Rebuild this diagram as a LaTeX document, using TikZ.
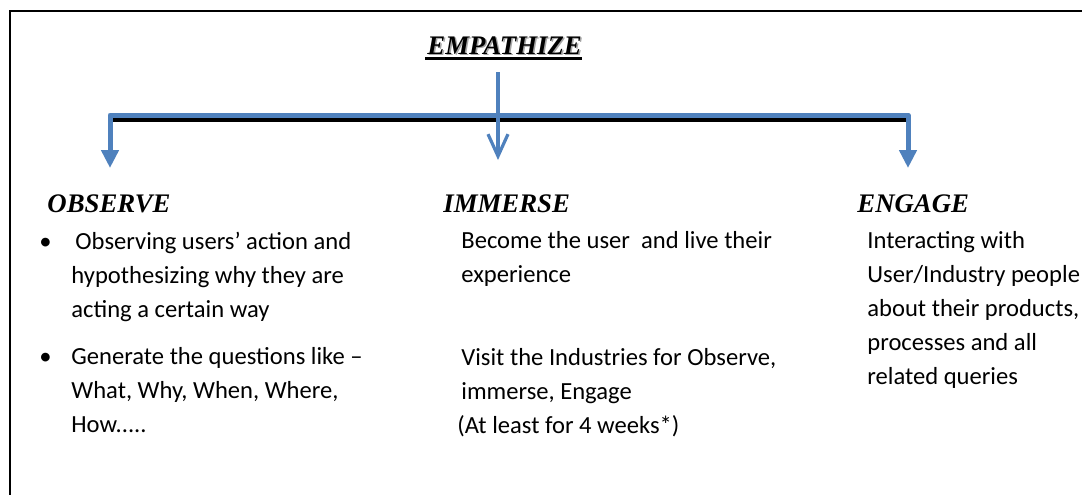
\documentclass[tikz,border=0pt]{standalone}
\usepackage{fontspec}
\setmainfont{Liberation Serif}
\newfontfamily\calibrifont{Carlito}
\usepackage{tikz}
\usetikzlibrary{arrows.meta, positioning}
\definecolor{officeblue}{RGB}{79,129,189}

\begin{document}
\begin{tikzpicture}[
    x=0.5pt, y=-0.5pt,
    heading/.style={font=\fontsize{13.4}{15}\selectfont\bfseries\itshape, anchor=base west, inner sep=0pt},
    % multi-line nodes: base anchor sits on the last line
    bodytext/.style={font=\calibrifont\fontsize{12.3}{17}\selectfont, align=left, anchor=base west, inner sep=0pt},
    bulletdot/.style={font=\calibrifont\fontsize{12.3}{17}\selectfont, anchor=base west, inner sep=0pt},
    branch/.style={draw=officeblue, line width=2.5pt, line join=round},
    stem/.style={draw=officeblue, line width=1.6pt, -{Straight Barb[length=11pt, width=10pt]}}
]
\useasboundingbox (0,0) rectangle (1082,494);

% Outer frame (right and bottom edges fall outside the page)
\draw[line width=1pt] (10,560) -- (10,11) -- (1160,11);

% Title with shadow and underline
\node[heading, text=black!35] (empshadow) at (428.5,55.5) {EMPATHIZE};
\node[heading] (empathize) at (427,54) {EMPATHIZE};
\draw[line width=1.3pt] ([xshift=-1pt, yshift=-2.2pt]empathize.base west) -- ([yshift=-2.2pt]empathize.base east);

% Branch points
\coordinate (obsTip) at (110,168);
\coordinate (engTip) at (908,168);
\coordinate (bendL) at (110,115);
\coordinate (bendR) at (908,115);
\coordinate (barL) at (110,119.5);
\coordinate (barR) at (908,119.5);
\coordinate (stemTop) at (498,72);
\coordinate (stemTip) at (498,160);

% Black bar under the blue branch
\draw[line width=2pt] (barL) -- (barR);
\draw[branch, {Triangle[width=8.5pt, length=9pt]}-{Triangle[width=8.5pt, length=9pt]}]
    (obsTip) -- (bendL) -- (bendR) -- (engTip);
\draw[stem] (stemTop) -- (stemTip);

% Headings
\node[heading] (observe) at (47,212) {OBSERVE};
\node[heading] (immerse) at (443,212) {IMMERSE};
\node[heading] (engage) at (857,212) {ENGAGE};

% Observe column
\node[bulletdot] (dot1) at (39,249) {\textbullet};
\node[bodytext] (obs1) at (71,317) {\kern2pt Observing users’ action and\\hypothesizing why they are\\acting a certain way};
\node[bulletdot] (dot2) at (39,364) {\textbullet};
\node[bodytext] (obs2) at (71,432) {Generate the questions like –\\What, Why, When, Where,\\How.....};

% Immerse column
\node[bodytext] (imm1) at (461,282) {Become the user~ and live their\\experience};
\node[bodytext] (imm2) at (461,433) {Visit the Industries for Observe,\\immerse, Engage\\\kern-2pt(At least for 4 weeks*)};

% Engage column
\node[bodytext] (eng1) at (867,384) {Interacting with\\User/Industry people\\about their products,\\processes and all\\related queries};

\end{tikzpicture}
\end{document}
